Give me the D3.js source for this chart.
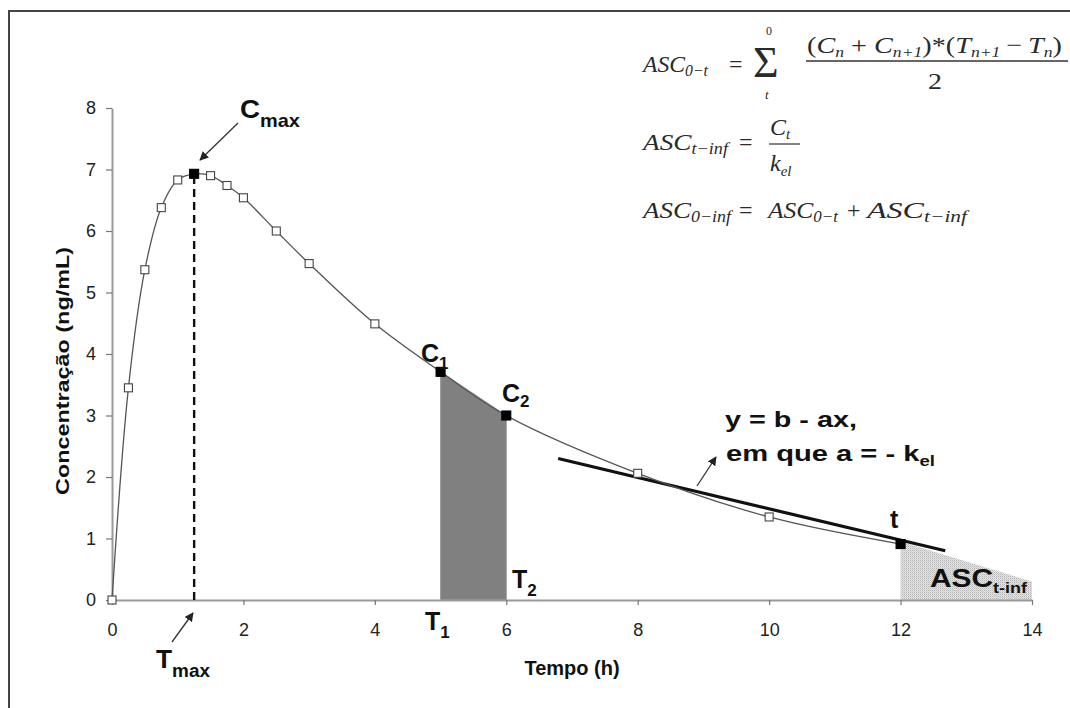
<!DOCTYPE html>
<html>
<head>
<meta charset="utf-8">
<script src="https://cdn.jsdelivr.net/npm/d3@7"></script>
<style>
  html, body { margin: 0; padding: 0; background: #fff; }
  svg { display: block; }
</style>
</head>
<body>
<svg id="chart" width="1070" height="708"></svg>
<script>
// ---- Data ----
const times = [0, 0.25, 0.5, 0.75, 1, 1.25, 1.5, 1.75, 2, 2.5, 3, 4, 5, 6, 8, 10, 12];
const conc  = [0, 3.45, 5.37, 6.38, 6.83, 6.93, 6.9, 6.74, 6.54, 6.0, 5.47, 4.49, 3.71, 3.0, 2.06, 1.35, 0.91];
const filledTimes = [1.25, 5, 6, 12];          // highlighted (black) points
const tmax = 1.25;
const trapezoidTimes = [5, 6];                 // C1 / C2 area
const regX = [6.79, 12.68];                    // terminal fit line
const regY = [2.30, 0.80];
const tailX = [12, 14];                        // ASC t-inf extrapolated area
const tailY = [0.95, 0.30];
const xTicks = [0, 2, 4, 6, 8, 10, 12, 14];
const yTicks = [0, 1, 2, 3, 4, 5, 6, 7, 8];
const xTitle = "Tempo (h)";
const yTitle = "Concentração (ng/mL)";

// ---- Setup ----
const svg = d3.select("#chart");
const x = d3.scaleLinear().domain([0, 14]).range([112, 1032]);
const y = d3.scaleLinear().domain([0, 8]).range([600, 108]);
const pts = times.map((t, i) => ({t, c: conc[i]}));
const sans = "'Liberation Sans', Arial, sans-serif";
const serif = "'Liberation Serif', 'Times New Roman', serif";

const defs = svg.append("defs");
const pat = defs.append("pattern").attr("id", "stipple").attr("patternUnits", "userSpaceOnUse")
  .attr("width", 2).attr("height", 2);
pat.append("rect").attr("width", 2).attr("height", 2).attr("fill", "#e4e4e4");
pat.append("rect").attr("width", 1).attr("height", 1).attr("fill", "#b4b4b4");
pat.append("rect").attr("x", 1).attr("y", 1).attr("width", 1).attr("height", 1).attr("fill", "#cfcfcf");

defs.append("marker").attr("id", "arr").attr("viewBox", "0 0 10 10")
  .attr("refX", 9).attr("refY", 5).attr("markerWidth", 9).attr("markerHeight", 9)
  .attr("markerUnits", "userSpaceOnUse").attr("orient", "auto")
  .append("path").attr("d", "M0,0 L10,5 L0,10 Z").attr("fill", "#222");

// frame
svg.append("path").attr("d", "M9,708 V11 H1070").attr("fill", "none")
  .attr("stroke", "#444").attr("stroke-width", 2);

// ---- Areas ----
const trap = pts.filter(p => trapezoidTimes.includes(p.t));
const trapPoly = [[trap[0].t, 0], [trap[0].t, trap[0].c], [trap[1].t, trap[1].c], [trap[1].t, 0]];
svg.append("path")
  .attr("d", d3.line().x(d => x(d[0])).y(d => y(d[1]))(trapPoly) + "Z")
  .attr("fill", "#808080").attr("stroke", "#9a9a9a").attr("stroke-width", 1);

const tailPoly = [[tailX[0], 0], [tailX[0], tailY[0]], [tailX[1], tailY[1]], [tailX[1], 0]];
svg.append("path")
  .attr("d", d3.line().x(d => x(d[0])).y(d => y(d[1]))(tailPoly) + "Z")
  .attr("fill", "url(#stipple)");

// ---- Axes ----
const xAxis = svg.append("g").attr("transform", `translate(0,${y(0)})`)
  .call(d3.axisBottom(x).tickValues(xTicks).tickSize(5).tickSizeOuter(0).tickPadding(18));
const yAxis = svg.append("g").attr("transform", `translate(${x(0)},0)`)
  .call(d3.axisLeft(y).tickValues(yTicks).tickSize(6).tickSizeOuter(0).tickPadding(10));
[xAxis, yAxis].forEach(g => {
  g.select(".domain").attr("stroke", "#9a9a9a").attr("stroke-width", 2);
  g.selectAll(".tick line").attr("stroke", "#777").attr("stroke-width", 1.2);
  g.selectAll(".tick text").attr("font-family", sans).attr("font-size", 18).attr("fill", "#222");
});

svg.append("text").attr("x", 572).attr("y", 675).attr("text-anchor", "middle")
  .attr("font-family", sans).attr("font-weight", "bold").attr("font-size", 20).attr("fill", "#111")
  .text(xTitle);
svg.append("text").attr("transform", "translate(69,371) rotate(-90)").attr("text-anchor", "middle")
  .attr("font-family", sans).attr("font-weight", "bold").attr("font-size", 19).attr("fill", "#111")
  .attr("textLength", 248).attr("lengthAdjust", "spacingAndGlyphs")
  .text(yTitle);

// ---- Tmax dashed line ----
svg.append("line").attr("x1", x(tmax)).attr("x2", x(tmax))
  .attr("y1", y(0)).attr("y2", y(conc[times.indexOf(tmax)]))
  .attr("stroke", "#111").attr("stroke-width", 2.4).attr("stroke-dasharray", "8,5");

// ---- Regression line ----
svg.append("line").attr("x1", x(regX[0])).attr("y1", y(regY[0]))
  .attr("x2", x(regX[1])).attr("y2", y(regY[1]))
  .attr("stroke", "#111").attr("stroke-width", 3.2);

// ---- Curve ----
svg.append("path")
  .attr("d", d3.line().x(d => x(d.t)).y(d => y(d.c)).curve(d3.curveCatmullRom.alpha(0.5))(pts))
  .attr("fill", "none").attr("stroke", "#555").attr("stroke-width", 1.3);

// ---- Markers ----
svg.selectAll("rect.pt").data(pts).join("rect").attr("class", "pt")
  .each(function(d) {
    const f = filledTimes.includes(d.t);
    const s = f ? 9 : 8;
    d3.select(this).attr("x", x(d.t) - s / 2).attr("y", y(d.c) - s / 2)
      .attr("width", s).attr("height", s)
      .attr("fill", f ? "#000" : "#fff").attr("stroke", f ? "#000" : "#444").attr("stroke-width", 1.1);
  });

// ---- Rich text helper: each part is its own text element, laid out left to right ----
function rich(x0, y0, parts, base, fit) {
  const g = svg.append("g");
  let cx = x0;
  parts.forEach(p => {
    cx += (p.pre || 0);
    const t = g.append("text").attr("x", cx).attr("y", y0 + (p.dy || 0))
      .attr("font-family", base.family).attr("fill", base.fill || "#111")
      .attr("font-size", p.size).text(p.t);
    if (base.weight) t.attr("font-weight", base.weight);
    const st = p.style || base.style;
    if (st) t.attr("font-style", st);
    cx += t.node().getComputedTextLength() + (p.gap || 0);
  });
  const w = cx - x0;
  if (fit && w > 0) {
    g.attr("transform", `translate(${x0},0) scale(${fit / w},1) translate(${-x0},0)`);
  }
  return g;
}
const B = {family: sans, weight: "bold", fill: "#111"};

// labels on the chart
rich(240, 118, [{t: "C", size: 25}, {t: "max", size: 18, dy: 9}], B, 60);
rich(156, 668, [{t: "T", size: 25}, {t: "max", size: 18, dy: 9}], B, 54);
rich(421, 362, [{t: "C", size: 25}, {t: "1", size: 17, dy: 7}], B);
rich(502, 402, [{t: "C", size: 25}, {t: "2", size: 17, dy: 5}], B);
rich(425, 630, [{t: "T", size: 25}, {t: "1", size: 17, dy: 8}], B);
rich(512, 588, [{t: "T", size: 25}, {t: "2", size: 17, dy: 8}], B);
rich(890, 528, [{t: "t", size: 25}], B);
rich(930, 587, [{t: "ASC", size: 25}, {t: "t-inf", size: 15, dy: 6}], B, 97);
rich(725, 427, [{t: "y = b - ax,", size: 22}], B, 132);
rich(726, 461, [{t: "em que a = - k", size: 22}, {t: "el", size: 14, dy: 5}], B, 209);

// arrows
function arrow(x1, y1, x2, y2) {
  svg.append("line").attr("x1", x1).attr("y1", y1).attr("x2", x2).attr("y2", y2)
    .attr("stroke", "#333").attr("stroke-width", 1.3).attr("marker-end", "url(#arr)");
}
arrow(238, 123, 200, 160);
arrow(172, 642, 193, 613);
arrow(697, 486, 716, 457);

// ---- Formulas (serif, italic) ----
const F = {family: serif, style: "italic", fill: "#2a2a2a"};
const N = "normal";
// line 1
rich(643, 72, [{t: "ASC", size: 24}, {t: "0−t", size: 16, dy: 4}], F, 65);
rich(729, 72, [{t: "=", size: 24, style: N}], F);
rich(753, 77, [{t: "Σ", size: 44, style: N}], F);
rich(766, 35, [{t: "0", size: 12, style: N}], F);
rich(765, 99, [{t: "t", size: 13}], F);
rich(807, 53, [
  {t: "(", size: 24, style: N}, {t: "C", size: 24}, {t: "n", size: 15, dy: 4},
  {t: "+", size: 24, style: N, pre: 6, gap: 6}, {t: "C", size: 24}, {t: "n+1", size: 15, dy: 4},
  {t: ")*(", size: 24, style: N}, {t: "T", size: 24}, {t: "n+1", size: 15, dy: 4},
  {t: "−", size: 24, style: N, pre: 5, gap: 5}, {t: "T", size: 24}, {t: "n", size: 15, dy: 4},
  {t: ")", size: 24, style: N}
], F, 255);
svg.append("line").attr("x1", 806).attr("x2", 1068).attr("y1", 61).attr("y2", 61)
  .attr("stroke", "#333").attr("stroke-width", 1.3);
rich(928, 89, [{t: "2", size: 24, style: N}], F, 14);
// line 2
rich(643, 150, [{t: "ASC", size: 24}, {t: "t−inf", size: 16, dy: 4}], F, 85);
rich(739, 150, [{t: "=", size: 24, style: N}], F);
rich(770, 135, [{t: "C", size: 24}, {t: "t", size: 15, dy: 4}], F);
svg.append("line").attr("x1", 769).attr("x2", 800).attr("y1", 144).attr("y2", 144)
  .attr("stroke", "#333").attr("stroke-width", 1.2);
rich(770, 171, [{t: "k", size: 24}, {t: "el", size: 15, dy: 5}], F);
// line 3
rich(643, 218, [{t: "ASC", size: 24}, {t: "0−inf", size: 16, dy: 4}], F, 88);
rich(739, 218, [{t: "=", size: 24, style: N}], F);
rich(768, 218, [{t: "ASC", size: 24}, {t: "0−t", size: 16, dy: 4}], F, 70);
rich(847, 218, [{t: "+", size: 24, style: N}], F);
rich(867, 218, [{t: "ASC", size: 24}, {t: "t−inf", size: 16, dy: 4}], F, 100);
</script>
</body>
</html>
